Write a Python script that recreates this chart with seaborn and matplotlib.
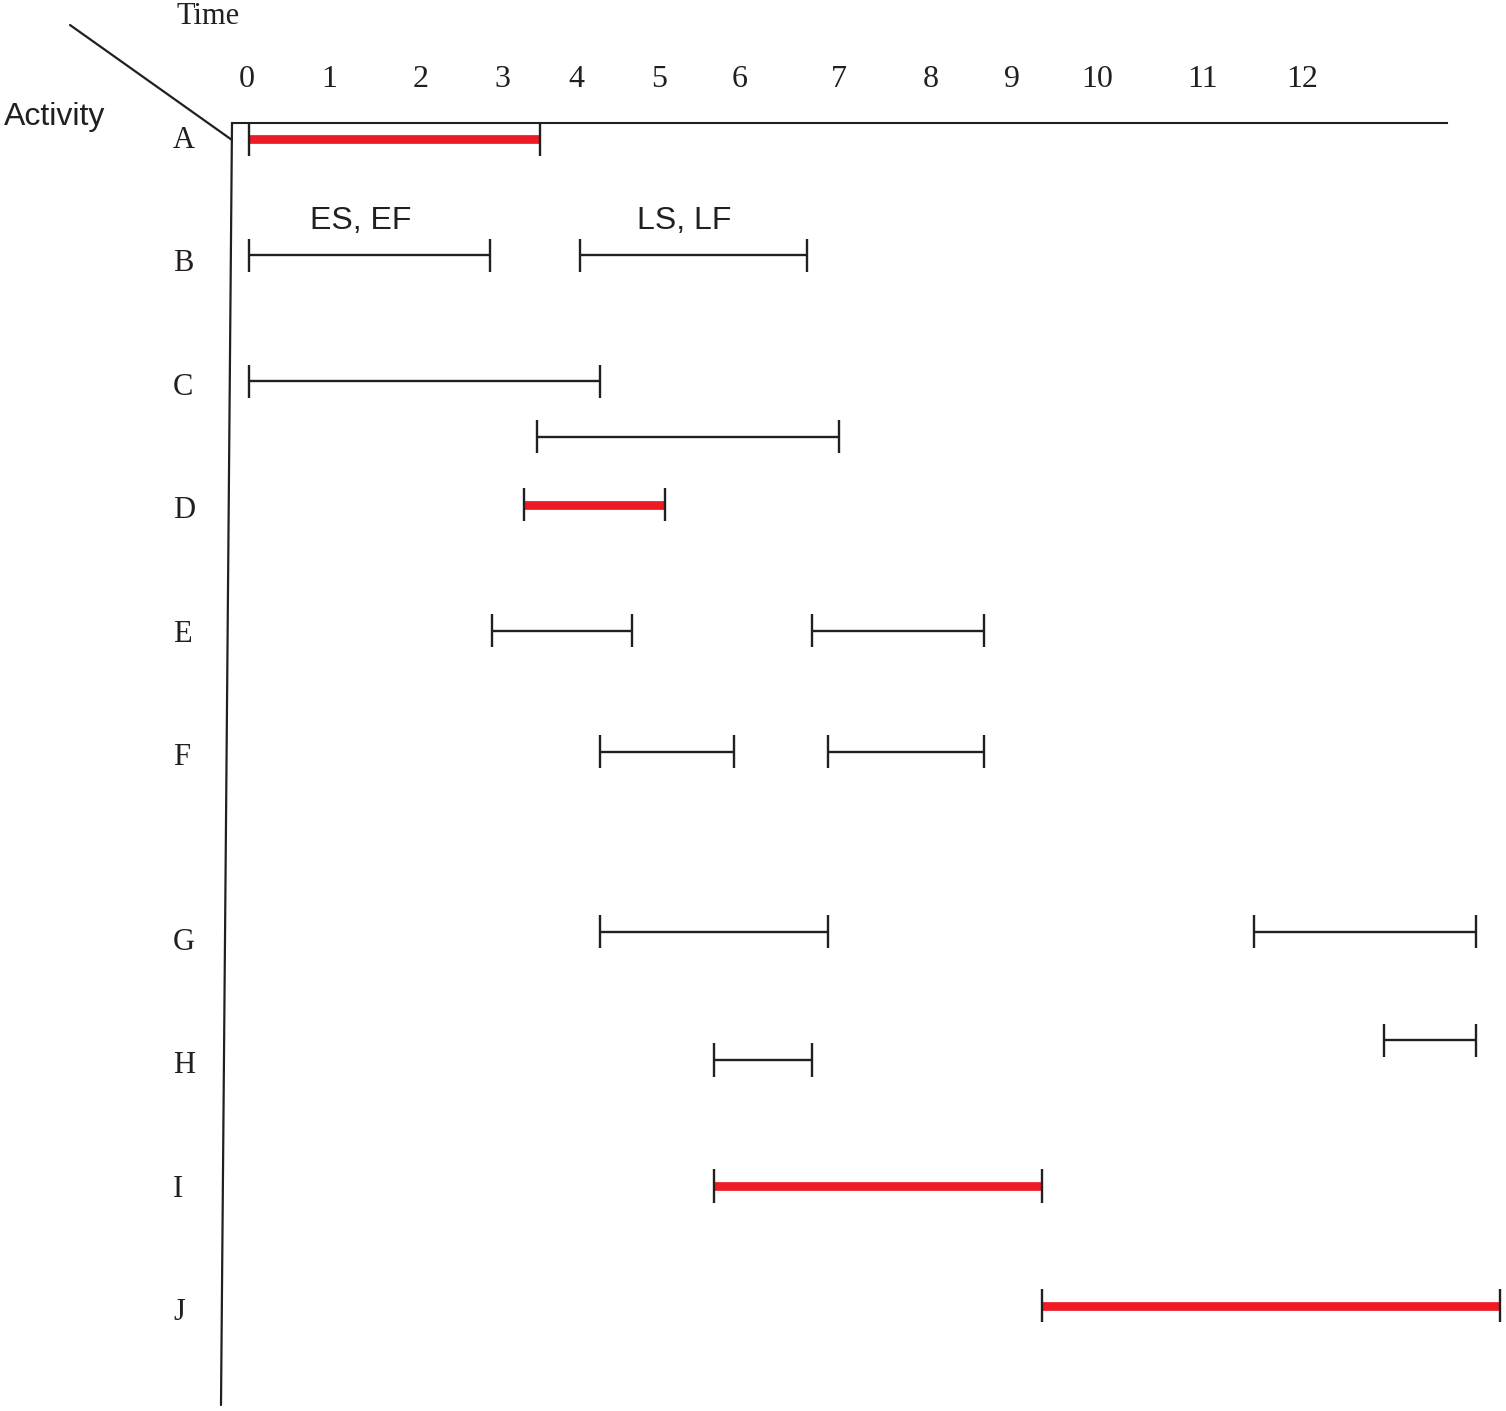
import numpy as np
import pandas as pd
import seaborn as sns
import matplotlib.pyplot as plt
from matplotlib.lines import Line2D

# activities and their row slots (extra gap before G)
activities = ["A", "B", "C", "D", "E", "F", "G", "H", "I", "J"]
row_pos = [0, 1, 2, 3, 4, 5, 6.5, 7.5, 8.5, 9.5]

# time scale labels as drawn (uneven spacing in the original sketch)
time_labels = [str(i) for i in range(13)]
time_label_pos = [0, 0.93, 1.97, 2.90, 3.74, 4.68, 5.60, 6.73, 7.77, 8.69, 9.66, 10.86, 11.99]

# bars: activity, start, end, small vertical shift within the row, critical path flag
bar_activity = ["A", "B", "B", "C", "C", "D", "E", "E", "F", "F", "G", "G", "H", "H", "I", "J"]
bar_start = [0.02, 0.02, 3.78, 0.02, 3.30, 3.15, 2.78, 6.42, 4.01, 6.60, 4.01, 11.44, 5.31, 12.92, 5.31, 9.03]
bar_end = [3.33, 2.76, 6.36, 4.01, 6.73, 4.75, 4.38, 8.38, 5.53, 8.38, 6.60, 13.97, 6.42, 13.97, 9.03, 14.24]
bar_shift = [0.02, -0.04, -0.04, -0.02, 0.43, -0.02, 0.0, 0.0, -0.02, -0.02, -0.06, -0.06, -0.02, -0.18, 0.0, -0.03]
bar_critical = [True, False, False, False, False, True, False, False, False, False,
                False, False, False, False, True, True]

RED = "#ed1c24"
INK = "#231f20"

sns.set_style("white")
plt.rcParams["font.family"] = ["Liberation Serif", "DejaVu Serif"]

df = pd.DataFrame({"activity": bar_activity, "start": bar_start, "end": bar_end,
                   "shift": bar_shift, "critical": bar_critical})
row_map = dict(zip(activities, row_pos))
df["y"] = df["activity"].map(row_map) + df["shift"]

W, H = 1506, 1411
fig = plt.figure(figsize=(W / 100, H / 100), dpi=100)
ax = fig.add_axes([232 / W, 0, 1215 / W, 1288 / H])

for _, r in df.iterrows():
    if r["critical"]:
        ax.hlines(r["y"], r["start"], r["end"], color=RED, lw=6.3, clip_on=False, zorder=2)
    else:
        ax.hlines(r["y"], r["start"], r["end"], color=INK, lw=1.7, clip_on=False, zorder=2)
    ax.vlines([r["start"], r["end"]], r["y"] - 0.135, r["y"] + 0.135, color=INK, lw=1.7,
              clip_on=False, zorder=3)

# ES/EF and LS/LF notes over activity B
b_rows = df[df["activity"] == "B"].reset_index(drop=True)
for i, note in enumerate(["ES, EF", "LS, LF"]):
    r = b_rows.loc[i]
    ax.text((r["start"] + r["end"]) / 2 - 0.1, r["y"] - 0.28, note, ha="center", va="center",
            fontsize=23, family=["Liberation Sans", "DejaVu Sans"], color=INK)

ax.set_xlim(-0.170, 13.636)
ax.set_ylim(10.324, -0.113)

ax.xaxis.tick_top()
ax.set_xticks(time_label_pos, time_labels)
ax.tick_params(axis="x", length=0, pad=21, labelsize=23, labelcolor=INK)
ax.set_yticks(row_pos, activities)
ax.tick_params(axis="y", length=0, pad=42.5, labelsize=22, labelcolor=INK)
for lbl in ax.get_yticklabels():
    lbl.set_ha("left")

sns.despine(ax=ax, left=True, bottom=True, right=True, top=False)
ax.spines["top"].set_linewidth(1.5)
ax.spines["top"].set_color(INK)

# slanted left axis and the corner diagonal
fig.add_artist(Line2D([232 / W, 221 / W], [1 - 123 / H, 1 - 1405 / H], color=INK, lw=1.6))
fig.add_artist(Line2D([70 / W, 232 / W], [1 - 25 / H, 1 - 140 / H], color=INK, lw=1.6))

fig.text(208 / W, 1 - 16 / H, "Time", ha="center", va="center", fontsize=22, color=INK)
fig.text(55 / W, 1 - 117 / H, "Activity", ha="center", va="center", fontsize=23,
         family=["Liberation Sans", "DejaVu Sans"], color=INK)

plt.savefig("out.png", dpi=100)
